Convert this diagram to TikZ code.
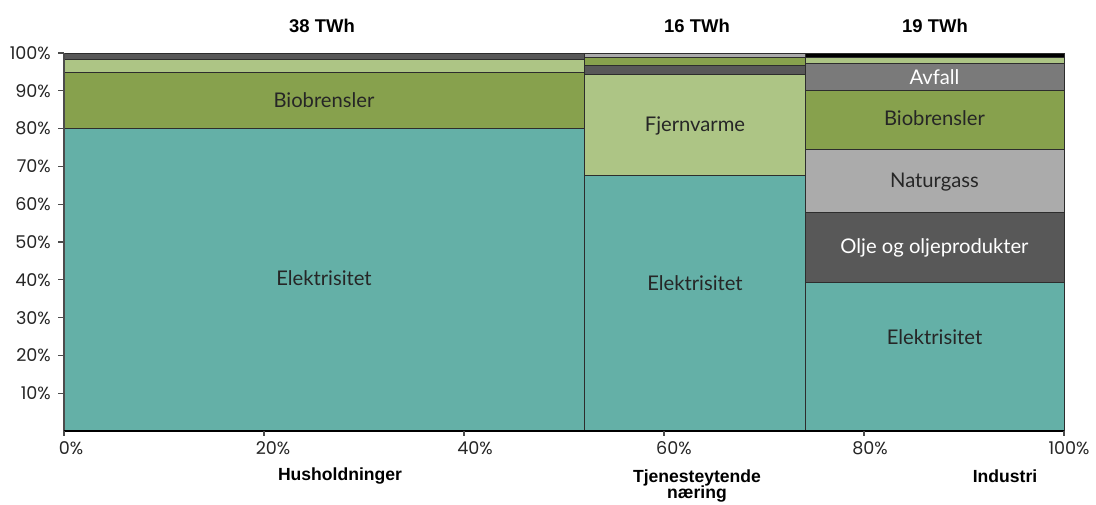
\documentclass[tikz,border=0pt]{standalone}
\usepackage{fontspec}
\setmainfont{Lato}
\newfontfamily\tickfont{Poppins}
\newfontfamily\headfont{Liberation Sans}
\definecolor{elteal}{RGB}{100,176,167}
\definecolor{biogreen}{RGB}{135,161,77}
\definecolor{fjvgreen}{RGB}{173,197,133}
\definecolor{gasgray}{RGB}{171,171,171}
\definecolor{oilgray}{RGB}{88,88,88}
\definecolor{wastegray}{RGB}{122,122,122}
\definecolor{edgegray}{RGB}{45,45,45}
\tikzset{
  seg/.style={draw=edgegray, line width=0.55pt},
  seglabel/.style={font=\fontsize{11.5}{13}\selectfont, text=black!85},
  seglabelw/.style={font=\fontsize{11.5}{13}\selectfont, text=white},
  ticklabel/.style={font=\tickfont\fontsize{10}{12}\selectfont, text=black!85},
  headlabel/.style={font=\headfont\bfseries\fontsize{10.5}{12}\selectfont},
  sectorlabel/.style={font=\headfont\bfseries\fontsize{10}{11}\selectfont, align=center, inner sep=1pt}
}

\begin{document}
\begin{tikzpicture}[x=0.2cm, y=0.0756cm]
\useasboundingbox (-6.4,-19.312) rectangle (103.2,114.021);

% Husholdninger (38 TWh)
\draw[seg, fill=elteal] (0,0) rectangle (52,80);
\draw[seg, fill=biogreen] (0,80) rectangle (52,94.8);
\draw[seg, fill=fjvgreen] (0,94.8) rectangle (52,98.3);
\draw[seg, fill=oilgray] (0,98.3) rectangle (52,100);
\node[seglabel] (husEl) at (26,40.5) {Elektrisitet};
\node[seglabel] (husBio) at (26,87.5) {Biobrensler};

% Tjenesteytende naering (16 TWh)
\draw[seg, fill=elteal] (52,0) rectangle (74.1,67.7);
\draw[seg, fill=fjvgreen] (52,67.7) rectangle (74.1,94.4);
\draw[seg, fill=oilgray] (52,94.4) rectangle (74.1,96.8);
\draw[seg, fill=biogreen] (52,96.8) rectangle (74.1,98.8);
\draw[seg, fill=gasgray] (52,98.8) rectangle (74.1,100);
\node[seglabel] (tjEl) at (63.1,39.2) {Elektrisitet};
\node[seglabel] (tjFjv) at (63.1,80.7) {Fjernvarme};

% Industri (19 TWh)
\draw[seg, fill=elteal] (74.1,0) rectangle (100,39.2);
\draw[seg, fill=oilgray] (74.1,39.2) rectangle (100,57.7);
\draw[seg, fill=gasgray] (74.1,57.7) rectangle (100,74.6);
\draw[seg, fill=biogreen] (74.1,74.6) rectangle (100,90.2);
\draw[seg, fill=wastegray] (74.1,90.2) rectangle (100,97.3);
\draw[seg, fill=fjvgreen] (74.1,97.3) rectangle (100,98.9);
\draw[seg, fill=black] (74.1,98.9) rectangle (100,100);
\node[seglabel] (indEl) at (87.05,24.9) {Elektrisitet};
\node[seglabelw] (indOil) at (87.05,48.4) {Olje og oljeprodukter};
\node[seglabel] (indGas) at (87.05,65.9) {Naturgass};
\node[seglabel] (indBio) at (87.05,82.8) {Biobrensler};
\node[seglabelw] (indAvf) at (87.05,93.65) {Avfall};

% Axes
\draw[black!70, line width=0.7pt] (0,0) -- (0,100);
\draw[black, line width=1.1pt] (0,0) -- (100,0);
\foreach \y in {10,20,...,100} \draw[black!70, line width=0.7pt] (-0.6,\y) -- (0,\y);
\foreach \x in {0,20,...,100} \draw[black!70, line width=0.7pt] (\x,0) -- (\x,-1.3);

% y tick labels
\node[ticklabel, anchor=east] (y10) at (-0.7,10) {10\%};
\node[ticklabel, anchor=east] (y20) at (-0.7,20) {20\%};
\node[ticklabel, anchor=east] (y30) at (-0.7,30) {30\%};
\node[ticklabel, anchor=east] (y40) at (-0.7,40) {40\%};
\node[ticklabel, anchor=east] (y50) at (-0.7,50) {50\%};
\node[ticklabel, anchor=east] (y60) at (-0.7,60) {60\%};
\node[ticklabel, anchor=east] (y70) at (-0.7,70) {70\%};
\node[ticklabel, anchor=east] (y80) at (-0.7,80) {80\%};
\node[ticklabel, anchor=east] (y90) at (-0.7,90) {90\%};
\node[ticklabel, anchor=east] (y100) at (-0.7,100) {100\%};

% x tick labels
\node[ticklabel] (x0) at (0.7,-4.5) {0\%};
\node[ticklabel] (x20) at (20.9,-4.5) {20\%};
\node[ticklabel] (x40) at (41.1,-4.5) {40\%};
\node[ticklabel] (x60) at (61,-4.5) {60\%};
\node[ticklabel] (x80) at (80.6,-4.5) {80\%};
\node[ticklabel] (x100) at (100.5,-4.5) {100\%};

% Totals above the bars
\node[headlabel] (totHus) at (25.8,107.1) {38 TWh};
\node[headlabel] (totTj) at (63.3,107.1) {16 TWh};
\node[headlabel] (totInd) at (87.1,107.1) {19 TWh};

% Sector names
\node[sectorlabel] (secHus) at (27.6,-11.9) {Husholdninger};
\node[sectorlabel, anchor=north] (secTj) at (63.3,-9.6) {Tjenesteytende\\[-1.5pt]næring};
\node[sectorlabel] (secInd) at (94.1,-11.9) {Industri};
\end{tikzpicture}
\end{document}
